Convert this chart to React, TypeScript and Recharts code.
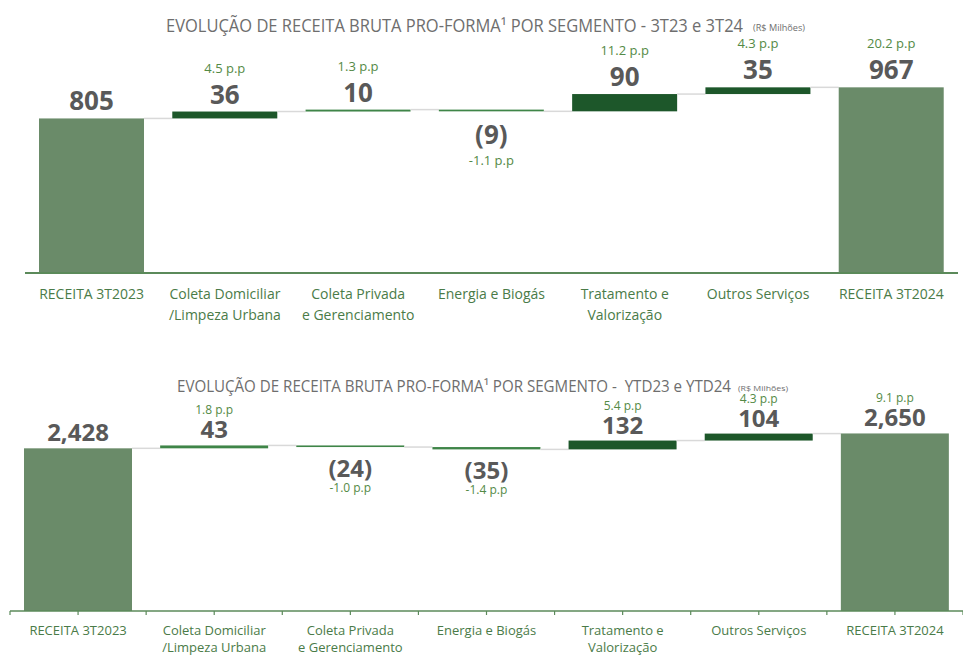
import React from 'react';
import { BarChart, Bar, XAxis, YAxis, LabelList } from 'recharts';

// categorias (quebra de linha com \n)
const CATEGORIES = [
  'RECEITA 3T2023',
  'Coleta Domiciliar\n/Limpeza Urbana',
  'Coleta Privada\ne Gerenciamento',
  'Energia e Biogás',
  'Tratamento e\nValorização',
  'Outros Serviços',
  'RECEITA 3T2024',
];

// 3T23 x 3T24 (R$ milhões)
const Q_VALUES = [805, 36, 10, -9, 90, 35, 967];
const Q_PP = ['', '4.5 p.p', '1.3 p.p', '-1.1 p.p', '11.2 p.p', '4.3 p.p', '20.2 p.p'];

// YTD23 x YTD24 (R$ milhões)
const YTD_VALUES = [2428, 43, -24, -35, 132, 104, 2650];
const YTD_PP = ['', '1.8 p.p', '-1.0 p.p', '-1.4 p.p', '5.4 p.p', '4.3 p.p', '9.1 p.p'];

const TOTAL_COLOR = '#6a8b69';
const UP_COLOR = '#1d572a';
const THIN_COLOR = '#3f8548';
const CONNECTOR = '#d9d9d9';
const VALUE_COLOR = '#595959';
const PP_COLOR = '#548a46';
const CAT_COLOR = '#4a7b48';
const AXIS_COLOR = '#5b8a5a';
const TITLE_COLOR = '#6e6e6e';

type Row = { name: string; base: number; delta: number; v: number; total: boolean; pp: string };

const buildRows = (values: number[], pp: string[]): Row[] => {
  let run = 0;
  return values.map((v, i) => {
    const total = i === 0 || i === values.length - 1;
    if (total) {
      run = v;
      return { name: CATEGORIES[i], base: 0, delta: v, v, total, pp: pp[i] };
    }
    const start = run;
    run += v;
    return { name: CATEGORIES[i], base: Math.min(start, run), delta: Math.abs(v), v, total, pp: pp[i] };
  });
};

const fmt = (v: number) => {
  const s = Math.abs(v).toLocaleString('en-US');
  return v < 0 ? `(${s})` : s;
};

type Cfg = {
  width: number;
  height: number;
  margin: { top: number; right: number; left: number; bottom: number };
  xAxisHeight: number;
  domain: [number, number];
  barSize: number;
  valueFont: number;
  ppFont: number;
  valueGap: number;
  ppGap: number;
  negValue: number;
  negPp: number;
  catFont: number;
  catFirst: number;
  catLine: number;
  axisWidth: number;
  ticks: boolean;
};

const makeShape = (band: number, n: number) => (props: any) => {
  const { x, y, width, height, payload, index } = props;
  const fill = payload.total ? TOTAL_COLOR : height < 4 ? THIN_COLOR : UP_COLOR;
  const lineY = payload.v < 0 ? y + height : y;
  return (
    <g>
      <rect x={x} y={y} width={width} height={Math.max(height, 1.5)} fill={fill} />
      {index < n - 1 && (
        <line x1={x + width} x2={x + band} y1={lineY} y2={lineY} stroke={CONNECTOR} strokeWidth={1.5} />
      )}
    </g>
  );
};

const makeLabel = (rows: Row[], cfg: Cfg) => (props: any) => {
  const { x, y, width, height, index } = props;
  const row = rows[index];
  if (!row) return null;
  const cx = x + width / 2;
  let vy: number;
  let py: number;
  if (row.v < 0) {
    vy = y + height + cfg.negValue;
    py = vy + cfg.negPp;
  } else {
    vy = y - cfg.valueGap;
    py = vy - cfg.ppGap;
  }
  return (
    <g fontFamily="'Open Sans', 'Noto Sans', sans-serif">
      <text x={cx} y={vy} textAnchor="middle" fontSize={cfg.valueFont} fontWeight={700} fill={VALUE_COLOR}>
        {fmt(row.v)}
      </text>
      {row.pp && (
        <text x={cx} y={py} textAnchor="middle" fontSize={cfg.ppFont} fontWeight={500} fill={PP_COLOR}>
          {row.pp}
        </text>
      )}
    </g>
  );
};

const makeTick = (cfg: Cfg, band: number, n: number) => (props: any) => {
  const { x, y, payload, index } = props;
  const lines = String(payload?.value ?? '').split('\n');
  return (
    <g>
      {cfg.ticks && (
        <g stroke={AXIS_COLOR} strokeWidth={1.2}>
          <line x1={x} x2={x} y1={y} y2={y + 4} />
          <line x1={x - band / 2} x2={x - band / 2} y1={y} y2={y + 4} />
          {index === n - 1 && <line x1={x + band / 2} x2={x + band / 2} y1={y} y2={y + 4} />}
        </g>
      )}
      <text
        x={x}
        y={y}
        textAnchor="middle"
        fontSize={cfg.catFont}
        fill={CAT_COLOR}
        fontFamily="'Open Sans', 'Noto Sans', sans-serif"
      >
        {lines.map((ln, i) => (
          <tspan key={i} x={x} dy={i === 0 ? cfg.catFirst : cfg.catLine}>
            {ln}
          </tspan>
        ))}
      </text>
    </g>
  );
};

function Waterfall({ values, pp, cfg }: { values: number[]; pp: string[]; cfg: Cfg }) {
  const rows = buildRows(values, pp);
  const n = rows.length;
  const band = (cfg.width - cfg.margin.left - cfg.margin.right) / n;
  const Shape = makeShape(band, n);
  const Label = makeLabel(rows, cfg);
  const Tick = makeTick(cfg, band, n);

  return (
    <BarChart width={cfg.width} height={cfg.height} data={rows} margin={cfg.margin} barSize={cfg.barSize}>
      <XAxis
        dataKey="name"
        interval={0}
        height={cfg.xAxisHeight}
        tickLine={false}
        tickSize={0}
        tickMargin={0}
        axisLine={{ stroke: AXIS_COLOR, strokeWidth: cfg.axisWidth }}
        tick={<Tick />}
      />
      <YAxis hide domain={cfg.domain} />
      <Bar dataKey="base" stackId="w" fill="transparent" isAnimationActive={false} />
      <Bar dataKey="delta" stackId="w" shape={<Shape />} isAnimationActive={false}>
        <LabelList dataKey="v" content={<Label />} />
      </Bar>
    </BarChart>
  );
}

const TOP_CFG: Cfg = {
  width: 963,
  height: 340,
  margin: { top: 81, right: 5, left: 25, bottom: 0 },
  xAxisHeight: 67,
  domain: [0, 1000],
  barSize: 105,
  valueFont: 26,
  ppFont: 13,
  valueGap: 8,
  ppGap: 31,
  negValue: 33,
  negPp: 21,
  catFont: 14,
  catFirst: 26,
  catLine: 21,
  axisWidth: 2,
  ticks: false,
};

const BOTTOM_CFG: Cfg = {
  width: 963,
  height: 315,
  margin: { top: 70, right: 0, left: 10, bottom: 0 },
  xAxisHeight: 44,
  domain: [0, 3000],
  barSize: 108,
  valueFont: 24,
  ppFont: 12,
  valueGap: 7,
  ppGap: 24,
  negValue: 30,
  negPp: 15,
  catFont: 13,
  catFirst: 24,
  catLine: 17,
  axisWidth: 1.5,
  ticks: true,
};

export default function App() {
  return (
    <div style={{ position: 'absolute', left: 0, top: 0, width: 963, height: 655, background: '#fff', overflow: 'hidden' }}>
      <div style={{ position: 'absolute', left: 0, top: 0 }}>
        <Waterfall values={Q_VALUES} pp={Q_PP} cfg={TOP_CFG} />
      </div>
      <div style={{ position: 'absolute', left: 0, top: 340 }}>
        <Waterfall values={YTD_VALUES} pp={YTD_PP} cfg={BOTTOM_CFG} />
      </div>
      <svg
        width={963}
        height={655}
        style={{ position: 'absolute', left: 0, top: 0, pointerEvents: 'none' }}
        fontFamily="'Open Sans', 'Noto Sans', sans-serif"
      >
        <text x={166} y={32} fontSize={18} fill={TITLE_COLOR} textLength={577} lengthAdjust="spacingAndGlyphs">
          EVOLUÇÃO DE RECEITA BRUTA PRO-FORMA¹ POR SEGMENTO - 3T23 e 3T24
        </text>
        <text x={753} y={31} fontSize={8.5} fill={TITLE_COLOR} textLength={52} lengthAdjust="spacingAndGlyphs">
          (R$ Milhões)
        </text>
        <text x={177} y={392} fontSize={16} fill={TITLE_COLOR} textLength={554} lengthAdjust="spacingAndGlyphs" style={{ whiteSpace: 'pre' }}>
          EVOLUÇÃO DE RECEITA BRUTA PRO-FORMA¹ POR SEGMENTO -  YTD23 e YTD24
        </text>
        <text x={738} y={391} fontSize={8} fill={TITLE_COLOR} textLength={50} lengthAdjust="spacingAndGlyphs">
          (R$ Milhões)
        </text>
      </svg>
    </div>
  );
}
